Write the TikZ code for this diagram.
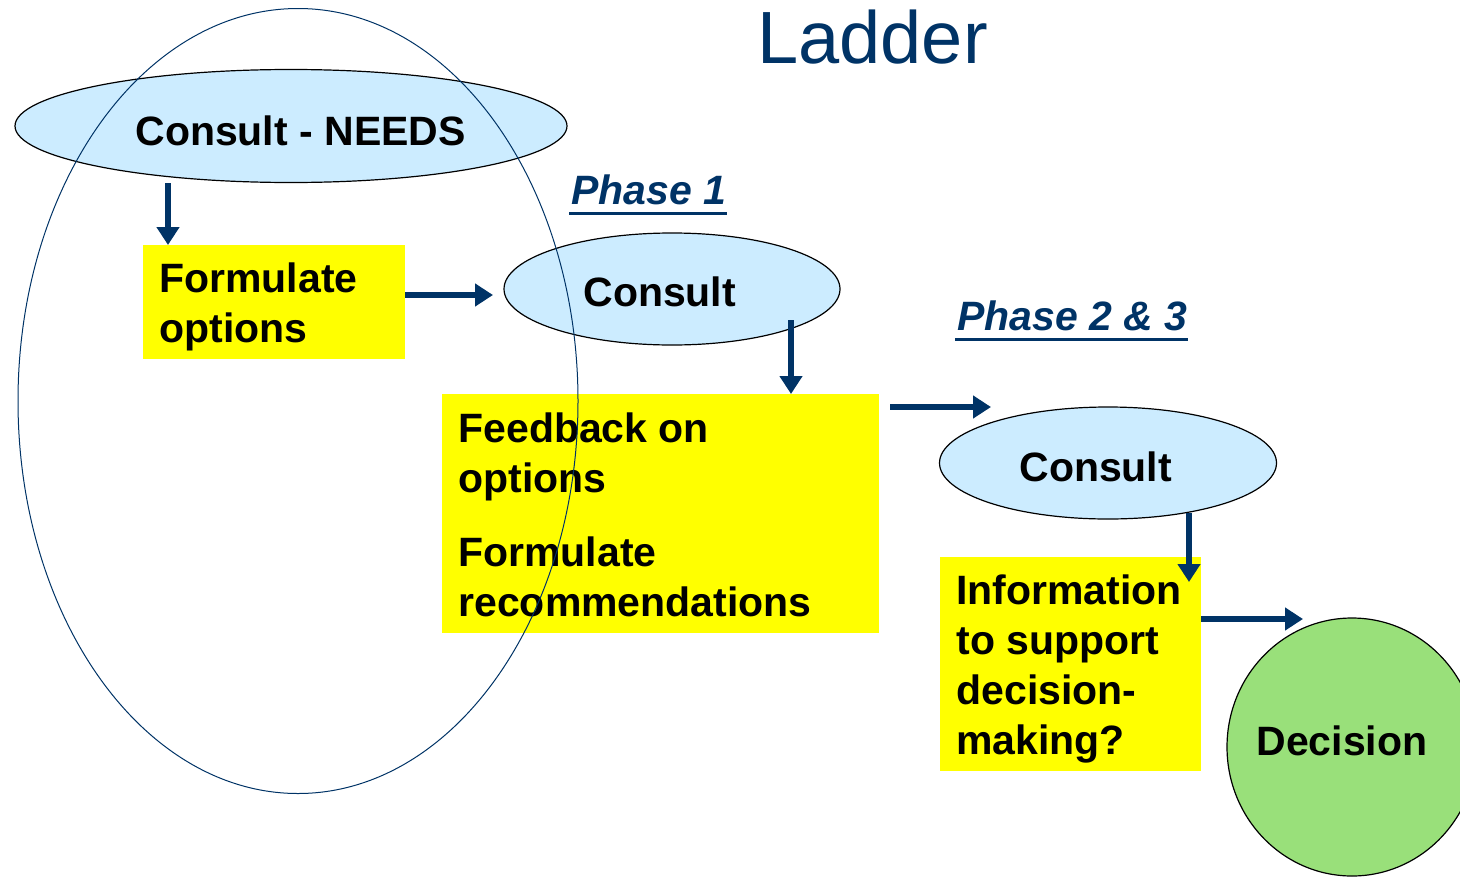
\documentclass[tikz,border=0pt]{standalone}
\usepackage{fontspec}
\setmainfont{Liberation Sans}
\usetikzlibrary{shapes.geometric,arrows.meta}
\definecolor{navy}{HTML}{003366}
\definecolor{ltblue}{HTML}{CCECFF}
\definecolor{ylw}{HTML}{FFFF00}
\definecolor{grn}{HTML}{99E07A}
\begin{document}
\begin{tikzpicture}[x=0.5pt,y=-0.5pt,
  bub/.style={ellipse,draw=black,line width=0.6pt,fill=ltblue,inner sep=0pt},
  ybox/.style={rectangle,fill=ylw,inner sep=0pt,anchor=north west},
  lbl/.style={font=\fontsize{20.5}{25}\selectfont\bfseries,inner sep=0pt,anchor=base west},
  phase/.style={font=\fontsize{20.5}{25}\selectfont\bfseries\itshape,text=navy,inner sep=0pt,anchor=base west},
  arr/.style={draw=navy,line width=3pt,-{Triangle[width=11pt,length=9pt]}},
  uline/.style={draw=navy,line width=1.5pt}]
\useasboundingbox (0,0) rectangle (1460,878);
\clip (0,0) rectangle (1460,878);
% title
\node[font=\fontsize{37}{44}\selectfont,text=navy,inner sep=0pt,anchor=base west] (title) at (757,63) {Ladder};
% shapes
\node[bub,minimum width=276pt,minimum height=56.5pt] (needs) at (291,126) {};
\node[lbl] (needst) at (135,145) {Consult - NEEDS};
\node[ybox,minimum width=131pt,minimum height=57pt] (fo) at (143,245) {};
\node[lbl] (fo1) at (159,292) {Formulate};
\node[lbl] (fo2) at (159,342) {options};
\node[bub,minimum width=168pt,minimum height=56pt] (c1) at (672,289) {};
\node[lbl] (c1t) at (583,306) {Consult};
\node[ybox,minimum width=218.5pt,minimum height=119.5pt] (fb) at (442,394) {};
\node[lbl] (fb1) at (458,442) {Feedback on};
\node[lbl] (fb2) at (458,492) {options};
\node[lbl] (fb3) at (458,566) {Formulate};
\node[lbl] (fb4) at (458,616) {recommendations};
\node[bub,minimum width=168.5pt,minimum height=56pt] (c2) at (1108,463) {};
\node[lbl] (c2t) at (1019,481) {Consult};
\node[ybox,minimum width=130.5pt,minimum height=107pt] (inf) at (940,557) {};
\node[lbl] (inf1) at (956,604) {Information};
\node[lbl] (inf2) at (956,654) {to support};
\node[lbl] (inf3) at (956,704) {decision-};
\node[lbl] (inf4) at (956,754) {making?};
\node[ellipse,draw=black,line width=0.6pt,fill=grn,minimum width=125pt,minimum height=129pt,inner sep=0pt] (dec) at (1352,747) {};
\node[lbl] (dect) at (1256,755) {Decision};
% phase labels
\node[phase] (p1) at (571,204) {Phase 1};
\draw[uline] (p1.base west) ++(-2,9) coordinate (p1a) -- (p1a -| p1.east);
\node[phase] (p2) at (957,330) {Phase 2 \& 3};
\draw[uline] (p2.base west) ++(-2,9) coordinate (p2a) -- (p2a -| p2.east);
% arrows
\coordinate (a1s) at (168,183); \coordinate (a1e) at (168,245);
\draw[arr] (a1s) -- (a1e);
\coordinate (a2s) at (405,295); \coordinate (a2e) at (493,295);
\draw[arr] (a2s) -- (a2e);
\coordinate (a3s) at (791,320); \coordinate (a3e) at (791,394);
\draw[arr] (a3s) -- (a3e);
\coordinate (a4s) at (890,407); \coordinate (a4e) at (991,407);
\draw[arr] (a4s) -- (a4e);
\coordinate (a5s) at (1189,513); \coordinate (a5e) at (1189,582);
\draw[arr] (a5s) -- (a5e);
\coordinate (a6s) at (1201,619); \coordinate (a6e) at (1303,619);
\draw[arr] (a6s) -- (a6e);
% big enclosing ellipse on top
\node[ellipse,draw=navy,line width=0.5pt,minimum width=280pt,minimum height=392.5pt,inner sep=0pt] (big) at (298,401) {};
\end{tikzpicture}
\end{document}
